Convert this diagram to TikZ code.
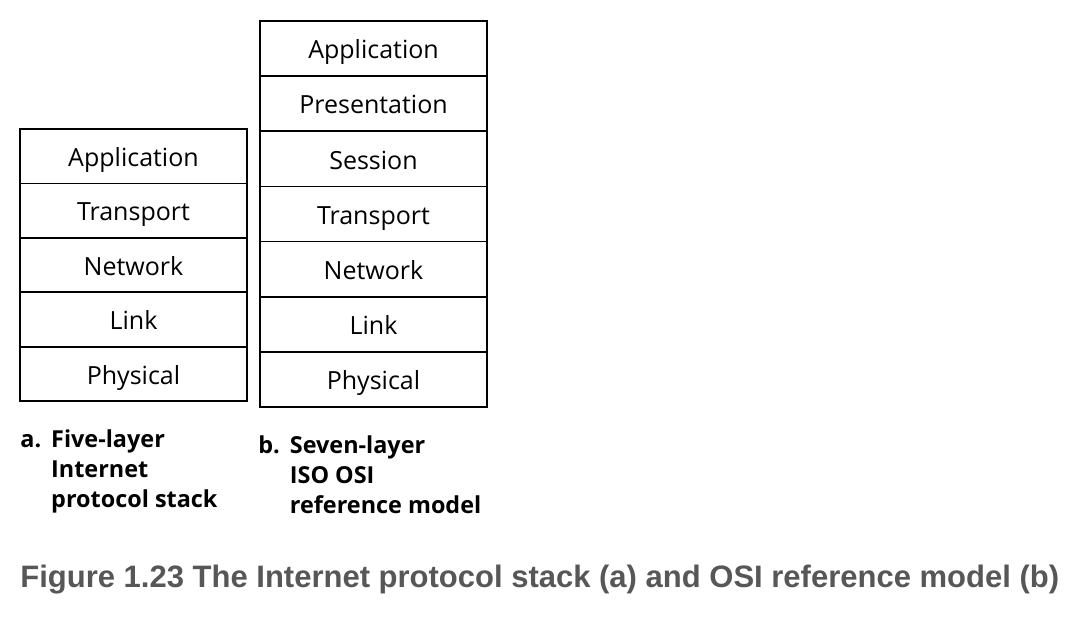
\documentclass[tikz,border=0pt]{standalone}
\usepackage{fontspec}
\setmainfont{Open Sans}
\newfontfamily\captionfont{Liberation Sans}
\usetikzlibrary{positioning}

\tikzset{
  layer/.style={draw, line width=0.9pt, minimum width=113.5pt, inner sep=0pt, outer sep=0pt,
    text height=13pt, text depth=2.8pt, font=\fontsize{12.5}{15}\selectfont},
  fivelayer/.style={layer, minimum height=27.2pt},
  sevenlayer/.style={layer, minimum height=27.57pt},
  stacklabel/.style={anchor=north west, inner sep=0pt, font=\fontsize{11.7}{15}\selectfont\bfseries}
}

\begin{document}
\begin{tikzpicture}[x=0.5pt,y=-0.5pt]
    \useasboundingbox (0,0) rectangle (1092,628);

    % five-layer stack
    \node[fivelayer] (appA) at (133.5,156.2) {Application};
    \node[fivelayer, below=0pt of appA] (transA) {Transport};
    \node[fivelayer, below=0pt of transA] (netA) {Network};
    \node[fivelayer, below=0pt of netA] (linkA) {Link};
    \node[fivelayer, below=0pt of linkA] (physA) {Physical};

    % seven-layer stack
    \node[sevenlayer] (appB) at (373.5,48.6) {Application};
    \node[sevenlayer, below=0pt of appB] (presB) {Presentation};
    \node[sevenlayer, below=0pt of presB] (sessB) {Session};
    \node[sevenlayer, below=0pt of sessB] (transB) {Transport};
    \node[sevenlayer, below=0pt of transB] (netB) {Network};
    \node[sevenlayer, below=0pt of netB] (linkB) {Link};
    \node[sevenlayer, below=0pt of linkB] (physB) {Physical};

    \node[stacklabel] (labelA) at (20,426) {\begin{tabular}{@{}l@{\hspace{5pt}}l}a.&Five-layer\\&Internet\\&protocol stack\end{tabular}};
    \node[stacklabel] (labelB) at (258,432) {\begin{tabular}{@{}l@{\hspace{5pt}}l}b.&Seven-layer\\&ISO OSI\\&reference model\end{tabular}};

    \node[anchor=west, inner sep=0pt, text=black!66, font=\captionfont\fontsize{15.5}{17}\selectfont\bfseries] (caption) at (20,580)
        {Figure 1.23 The Internet protocol stack (a) and OSI reference model (b)};
\end{tikzpicture}
\end{document}
